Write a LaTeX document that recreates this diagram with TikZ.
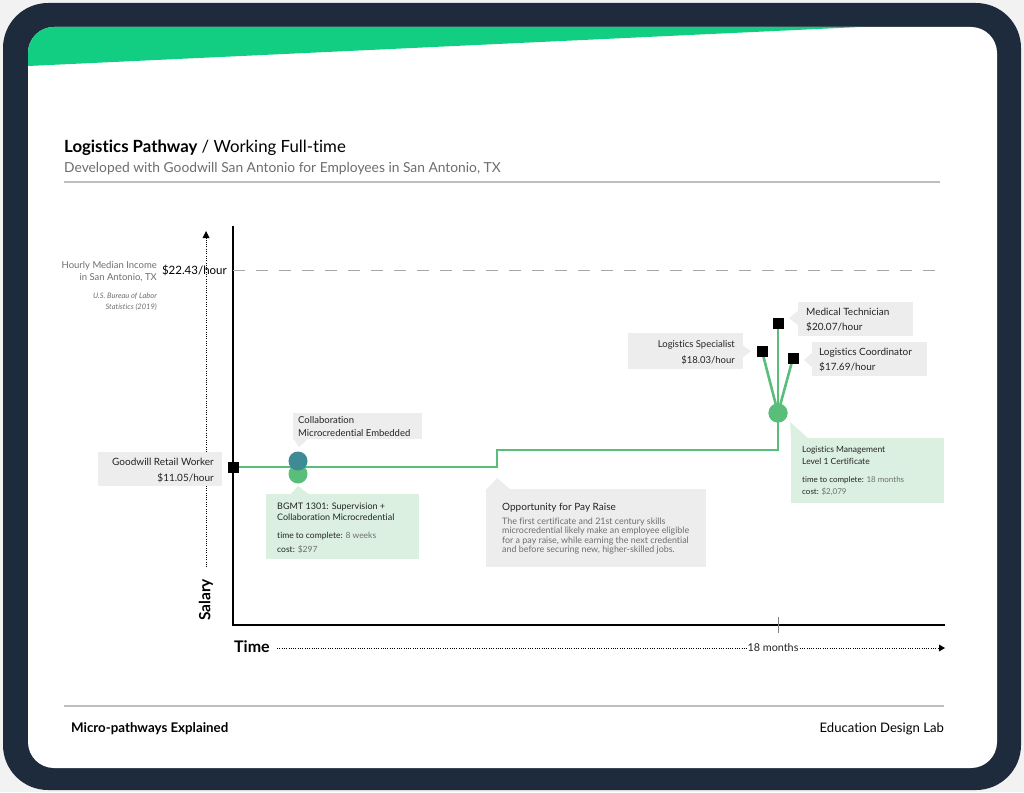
\documentclass[tikz,border=0pt]{standalone}
\usepackage{fontspec}
\setmainfont{Lato}[Ligatures={NoCommon,NoContextual}]
\usetikzlibrary{arrows.meta}
\definecolor{navy}{RGB}{30,43,61}
\definecolor{band}{RGB}{18,206,130}
\definecolor{pathg}{RGB}{88,190,122}
\definecolor{tealc}{RGB}{62,138,150}
\definecolor{boxgray}{RGB}{237,237,237}
\definecolor{boxgreen}{RGB}{220,240,226}
\definecolor{txtdk}{RGB}{35,35,35}
\definecolor{txtgr}{RGB}{110,110,110}
\definecolor{rulegr}{RGB}{190,190,190}
\definecolor{outbg}{RGB}{242,242,242}
\begin{document}
\begin{tikzpicture}[x=1pt,y=-1pt,
  sq/.style={fill=black, minimum size=11pt, inner sep=0pt},
  pathline/.style={draw=pathg, line width=2.6pt},
  gbox/.style={fill=boxgray, inner sep=0pt, anchor=north west},
  lgbox/.style={fill=boxgreen, inner sep=0pt, anchor=north west},
  tl/.style={inner sep=0pt, text=txtdk, anchor=base west},
  tr/.style={inner sep=0pt, text=txtdk, anchor=base east},
  dotline/.style={draw=black, line width=0.9pt, dash pattern=on 0.9pt off 1.4pt},
]
\useasboundingbox (0,0) rectangle (1024,792);
% frame
\fill[outbg] (0,0) rectangle (1024,792);
\fill[navy, rounded corners=45pt] (3,3) rectangle (1021,790);
\fill[white, rounded corners=26pt] (28,27) rectangle (997,768);
\begin{scope}
  \clip[rounded corners=26pt] (28,27) rectangle (997,768);
  \fill[band] (20,20) -- (860,20) -- (860,27) -- (28,66) -- (20,66) -- cycle;
\end{scope}

% header
\node[tl, text=black, font=\fontsize{16.8}{19}\selectfont] (title) at (64,152) {\textbf{Logistics Pathway} / Working Full-time};
\node[tl, text=txtgr, font=\fontsize{13.8}{15}\selectfont] (subtitle) at (64,172) {Developed with Goodwill San Antonio for Employees in San Antonio, TX};
\draw[rulegr, line width=1.2pt] (64,182) -- (940,182);

% axes
\coordinate (ytop) at (233,226);
\coordinate (origin) at (233,625);
\coordinate (xend) at (945,625);
\draw[black, line width=2pt] (ytop) -- (origin) -- (xend);
\draw[gray, line width=0.6pt] (778,617) -- (778,633);

% salary dotted arrow
\coordinate (sdot0) at (206,567);
\coordinate (sdot1) at (206,231);
\draw[dotline] (sdot0) -- (206,238);
\fill[black] (sdot1) -- (202.5,238) -- (209.5,238) -- cycle;
\node[rotate=90, inner sep=0pt, font=\bfseries\fontsize{15.5}{17}\selectfont] (salary) at (206,600) {Salary};

% time axis label
\node[tl, text=black, font=\bfseries\fontsize{16}{18}\selectfont] (time) at (234,652) {Time};
\node[inner sep=0pt, text=txtdk, font=\fontsize{10.8}{12}\selectfont] (months) at (773,648) {18 months};
\coordinate (tend) at (945,648);
\draw[dotline] (277,648) -- ([xshift=-1pt]months.west);
\draw[dotline] ([xshift=1pt]months.east) -- (939,648);
\fill[black] (tend) -- (939,644.5) -- (939,651.5) -- cycle;

% median income line
\draw[gray!70, line width=0.9pt, dash pattern=on 12pt off 11pt] (233,270) -- (945,270);
\node[tr, text=black, font=\fontsize{11.5}{13}\selectfont] (median) at (227,274) {\$22.43/hour};
\node[tr, text=txtgr, font=\fontsize{9.5}{11}\selectfont] (hm1) at (157,268.5) {Hourly Median Income};
\node[tr, text=txtgr, font=\fontsize{9.5}{11}\selectfont] (hm2) at (157,280.5) {in San Antonio, TX};
\node[tr, text=txtgr, font=\itshape\fontsize{7.5}{9}\selectfont] (bls1) at (157,298) {U.S. Bureau of Labor};
\node[tr, text=txtgr, font=\itshape\fontsize{7.5}{9}\selectfont] (bls2) at (157,309) {Statistics (2019)};

% callout boxes
\node[gbox, minimum width=124pt, minimum height=34pt] (gwbox) at (98,452) {};
\node[gbox, minimum width=129pt, minimum height=26pt] (colbox) at (293,413) {};
\fill[boxgray] (293,438) -- (309,438) -- (299,447) -- cycle;
\node[lgbox, minimum width=153pt, minimum height=65pt] (bgbox) at (266,494) {};
\fill[boxgreen] (290,495) -- (310,495) -- (298,486) -- cycle;
\node[gbox, minimum width=220pt, minimum height=78pt] (oppbox) at (486,489) {};
\fill[boxgray] (486,490) -- (511,490) -- (497,478) -- cycle;
\node[gbox, minimum width=115pt, minimum height=36pt] (specbox) at (628,333) {};
\fill[boxgray] (742,345) -- (742,358) -- (751,351) -- cycle;
\node[gbox, minimum width=115pt, minimum height=34pt] (medbox) at (798,302) {};
\fill[boxgray] (799,310) -- (799,326) -- (789,318) -- cycle;
\node[gbox, minimum width=115pt, minimum height=34pt] (coobox) at (812,342) {};
\fill[boxgray] (813,352) -- (813,368) -- (804,360) -- cycle;
\node[lgbox, minimum width=153pt, minimum height=65pt] (lmbox) at (791,438) {};
\fill[boxgreen] (790,422) -- (791,439) -- (809,439) -- cycle;

% pathway line
\node[sq] (gw) at (233,467) {};
\coordinate (step1) at (497,467);
\coordinate (step2) at (497,450);
\coordinate (step3) at (778,450);
\node[circle, fill=pathg, minimum size=19pt, inner sep=0pt] (lm) at (778,413) {};
\draw[pathline] (gw.center) -- (step1) -- (step2) -- (step3) -- (lm.center);
\node[circle, fill=pathg, minimum size=19pt, inner sep=0pt] (c1b) at (298,474) {};
\node[circle, fill=tealc, minimum size=19pt, inner sep=0pt] (c1a) at (298,461) {};
\node[sq] (gw) at (233,467) {};

% branches
\node[sq] (med) at (778,323) {};
\node[sq] (spec) at (762,351) {};
\node[sq] (coo) at (793,358) {};
\draw[pathline] (lm.center) -- (med.center);
\draw[pathline] (lm.center) -- (spec.center);
\draw[pathline] (lm.center) -- (coo.center);
\node[circle, fill=pathg, minimum size=19pt, inner sep=0pt] (lm) at (778,413) {};
\node[sq] (med) at (778,323) {};
\node[sq] (spec) at (762,351) {};
\node[sq] (coo) at (793,358) {};

% texts in boxes
\node[tr, font=\fontsize{10}{12}\selectfont] (gwt1) at (214,465.5) {Goodwill Retail Worker};
\node[tr, font=\fontsize{10}{12}\selectfont] (gwt2) at (214,481) {\$11.05/hour};

\node[tl, font=\fontsize{9.5}{11}\selectfont] (colt1) at (298,423.5) {Collaboration};
\node[tl, font=\fontsize{9.5}{11}\selectfont] (colt2) at (298,436.5) {Microcredential Embedded};

\node[tl, font=\fontsize{9}{10}\selectfont] (bgt1) at (277,509) {BGMT 1301: Supervision +};
\node[tl, font=\fontsize{9}{10}\selectfont] (bgt2) at (277,520) {Collaboration Microcredential};
\node[tl, font=\fontsize{8.5}{10}\selectfont] (bgt3) at (277,538) {time to complete: \textcolor{txtgr}{8 weeks}};
\node[tl, font=\fontsize{8.5}{10}\selectfont] (bgt4) at (277,552) {cost: \textcolor{txtgr}{\$297}};

\node[tl, font=\fontsize{10}{12}\selectfont] (oppt0) at (502,510.5) {Opportunity for Pay Raise};
\node[tl, text=txtgr, font=\fontsize{8.9}{10}\selectfont] (oppt1) at (502,524) {The first certificate and 21st century skills};
\node[tl, text=txtgr, font=\fontsize{8.9}{10}\selectfont] (oppt2) at (502,533.5) {microcredential likely make an employee eligible};
\node[tl, text=txtgr, font=\fontsize{8.9}{10}\selectfont] (oppt3) at (502,543) {for a pay raise, while earning the next credential};
\node[tl, text=txtgr, font=\fontsize{8.9}{10}\selectfont] (oppt4) at (502,552.5) {and before securing new, higher-skilled jobs.};

\node[tr, font=\fontsize{9.5}{11}\selectfont] (spect1) at (735,347.5) {Logistics Specialist};
\node[tr, font=\fontsize{9.5}{11}\selectfont] (spect2) at (735,363.5) {\$18.03/hour};
\node[tl, font=\fontsize{10}{12}\selectfont] (medt1) at (806,315.5) {Medical Technician};
\node[tl, font=\fontsize{10}{12}\selectfont] (medt2) at (806,330.5) {\$20.07/hour};
\node[tl, font=\fontsize{10}{12}\selectfont] (coot1) at (819,355.5) {Logistics Coordinator};
\node[tl, font=\fontsize{10}{12}\selectfont] (coot2) at (819,370.5) {\$17.69/hour};

\node[tl, font=\fontsize{8.5}{10}\selectfont] (lmt1) at (802,452) {Logistics Management};
\node[tl, font=\fontsize{8.5}{10}\selectfont] (lmt2) at (802,464) {Level 1 Certificate};
\node[tl, font=\fontsize{8}{10}\selectfont] (lmt3) at (802,482) {time to complete: \textcolor{txtgr}{18 months}};
\node[tl, font=\fontsize{8}{10}\selectfont] (lmt4) at (802,494) {cost: \textcolor{txtgr}{\$2,079}};

% footer
\draw[rulegr, line width=1.2pt] (64,706) -- (944,706);
\node[tl, text=black, font=\bfseries\fontsize{13.3}{15}\selectfont] (foot1) at (71,732.5) {Micro-pathways Explained};
\node[tr, text=black, font=\fontsize{13.1}{15}\selectfont] (foot2) at (944,732.5) {Education Design Lab};
\end{tikzpicture}
\end{document}
